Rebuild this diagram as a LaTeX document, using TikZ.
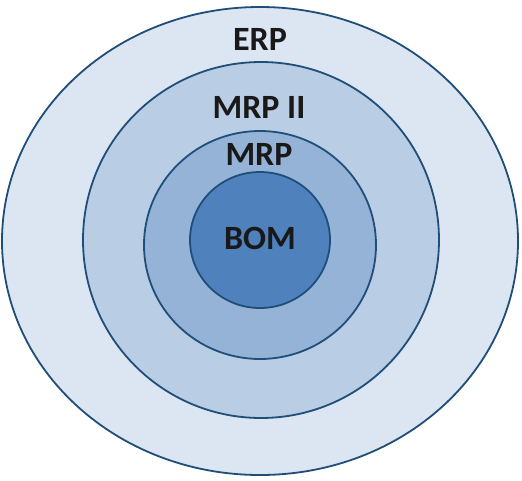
\documentclass[tikz,border=0pt]{standalone}
\usepackage{fontspec}
\setmainfont{Carlito}
\definecolor{c1}{HTML}{DCE6F2}
\definecolor{c2}{HTML}{B9CDE5}
\definecolor{c3}{HTML}{95B3D7}
\definecolor{c4}{HTML}{4F81BD}
\definecolor{edge}{HTML}{1F4E79}
\begin{document}
\begin{tikzpicture}[x=1pt,y=-1pt,
  ring/.style={draw=edge,line width=1.8pt},
  lab/.style={font=\fontsize{34}{38}\selectfont\bfseries,text=black!90,inner sep=0pt}]
\useasboundingbox (0,0) rectangle (522,480);
\fill[white] (0,0) rectangle (522,480);
\draw[ring,fill=c1] (260,241) ellipse [x radius=258, y radius=234];
\draw[ring,fill=c2] (261,240) ellipse [x radius=178, y radius=178];
\draw[ring,fill=c3] (260,245) ellipse [x radius=116, y radius=114];
\draw[ring,fill=c4] (260,240) ellipse [x radius=70, y radius=68];
\node[lab] (erp) at (260,39) {ERP};
\node[lab] (mrp2) at (259,107) {MRP II};
\node[lab] (mrp) at (259,154) {MRP};
\node[lab] (bom) at (260,238) {BOM};
\end{tikzpicture}
\end{document}
